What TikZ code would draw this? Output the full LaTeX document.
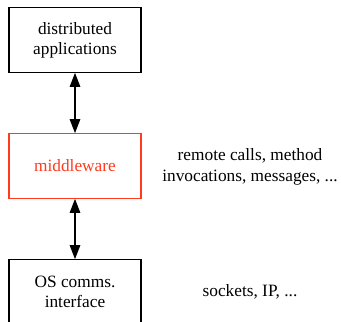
\documentclass[tikz,border=0pt]{standalone}
\usepackage{fontspec}
\setmainfont{Liberation Serif}
\usetikzlibrary{arrows.meta}
\definecolor{mwred}{RGB}{255,58,30}
\begin{document}
\begin{tikzpicture}[x=1pt,y=-1pt,
  txt/.style={font=\fontsize{17.3}{20.3}\selectfont, align=center},
  box/.style={txt, draw, line width=1.2pt, minimum width=132pt, minimum height=64.5pt, inner sep=0pt},
  link/.style={{Triangle[length=14pt,width=10.5pt]}-{Triangle[length=14pt,width=10.5pt]}, line width=1.2pt}]
\useasboundingbox (0,0) rectangle (341,322);
\clip (0,0) rectangle (341,322);
\node[box] (apps) at (75,40) {distributed\\applications};
\node[box, draw=mwred, text=mwred] (mw) at (75,166) {middleware};
\node[box] (os) at (75,292) {OS comms.\\interface};
\node[txt] (mwl) at (250,167) {remote calls, method\\invocations, messages, ...};
\node[txt] (osl) at (250,292) {sockets, IP, ...};
\draw[link] (apps) -- (mw);
\draw[link] (mw) -- (os);
\end{tikzpicture}
\end{document}
